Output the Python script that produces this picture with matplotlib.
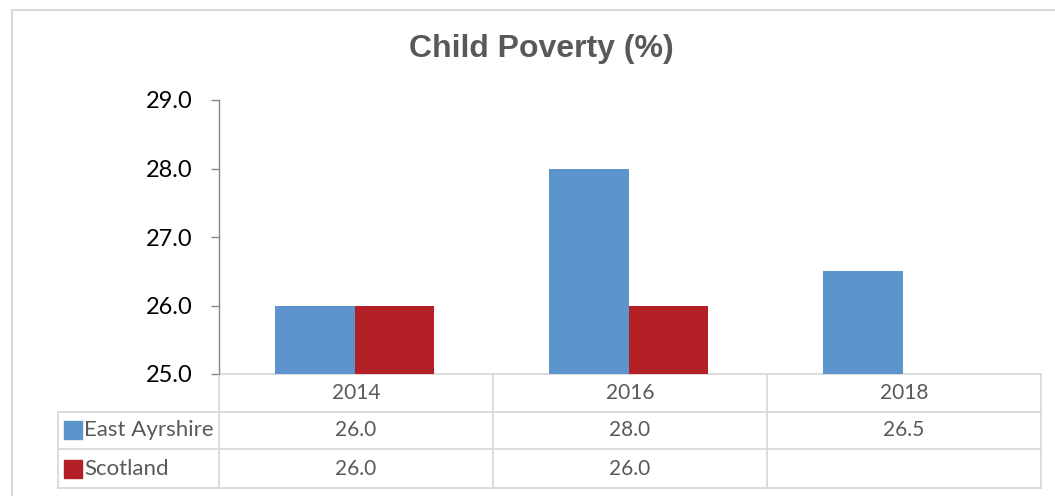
#Child Poverty bar chart with data table
import numpy as np
import matplotlib.pyplot as plt
import matplotlib.transforms as mtransforms
from matplotlib.lines import Line2D

#Data
years = ["2014", "2016", "2018"]
east_ayrshire = [26.0, 28.0, 26.5]
scotland = [26.0, 26.0, None]
series_names = ["East Ayrshire", "Scotland"]
colors = ["#5B95CB", "#B21F24"]
yticks = [25.0, 26.0, 27.0, 28.0, 29.0]

grid_col = "#D9D9D9"
text_col = "#595959"
font = "Lato"

fig = plt.figure(figsize=(10.55, 4.96), dpi=100)
ax = fig.add_axes([219/1055, 1 - 374/496, (1041 - 219)/1055, 274/496])

x = np.arange(len(years))
w = 0.29
sc_x = [xi for xi, v in zip(x, scotland) if v is not None]
sc_vals = [v for v in scotland if v is not None]
ax.bar(x - 0.15, east_ayrshire, width=w, color=colors[0], zorder=2)
ax.bar(np.array(sc_x) + 0.14, sc_vals, width=w, color=colors[1], zorder=3)

ax.set_xlim(-0.5, len(years) - 0.5)
ax.set_ylim(25, 29)
ax.set_yticks(yticks)
ax.set_yticklabels(["%.1f" % t for t in yticks], fontsize=17, family=font, color="black")
ax.tick_params(axis="y", length=6, width=1, color="#868686", pad=13)
ax.set_xticks([])
for s in ["top", "right", "bottom"]:
    ax.spines[s].set_visible(False)
ax.spines["left"].set_color("#868686")
ax.spines["left"].set_linewidth(1)

#Data table drawn below the axis
tr = mtransforms.blended_transform_factory(ax.transData, ax.transAxes)
x_left = -0.5 - (219 - 58) / 274.0
row_lines = [0.0, -0.1387, -0.2737, -0.416]
lw = 1.3
ax.add_line(Line2D([-0.5, 2.5], [0, 0], transform=tr, color=grid_col, lw=lw, clip_on=False, zorder=1))
for yl in row_lines[1:]:
    ax.add_line(Line2D([x_left, 2.5], [yl, yl], transform=tr, color=grid_col, lw=lw, clip_on=False))
for xv in [-0.5, 0.5, 1.5, 2.5]:
    ax.add_line(Line2D([xv, xv], [0, row_lines[-1]], transform=tr, color=grid_col, lw=lw, clip_on=False))
ax.add_line(Line2D([x_left, x_left], [row_lines[1], row_lines[-1]], transform=tr, color=grid_col, lw=lw, clip_on=False))

row_centers = [-0.069, -0.206, -0.345]
for xi, yr in zip(x, years):
    ax.text(xi, row_centers[0], yr, transform=tr, ha="center", va="center",
            fontsize=15, family=font, color=text_col)
for r, (name, vals, c) in enumerate(zip(series_names, [east_ayrshire, scotland], colors)):
    yc = row_centers[r + 1]
    ax.plot([-0.5 - (219 - 72.5) / 274.0], [yc], marker="s", markersize=13, color=c,
            transform=tr, clip_on=False)
    ax.text(-0.5 - (219 - 84) / 274.0, yc, name, transform=tr, ha="left", va="center",
            fontsize=16, family=font, color=text_col)
    for xi, v in zip(x, vals):
        if v is not None:
            ax.text(xi, yc, "%.1f" % v, transform=tr, ha="center", va="center",
                    fontsize=15, family=font, color=text_col)

#Title
fig.text(541/1055, 1 - 49/496, "Child Poverty (%)", ha="center", va="center",
         fontsize=23, fontweight="bold", family="Liberation Sans", color=text_col)

#Outer chart frame
fig.add_artist(Line2D([12/1055, 1], [1 - 10/496, 1 - 10/496], transform=fig.transFigure, color=grid_col, lw=1.5))
fig.add_artist(Line2D([12/1055, 12/1055], [0, 1 - 10/496], transform=fig.transFigure, color=grid_col, lw=1.5))

fig.savefig("out.png", dpi=100)
